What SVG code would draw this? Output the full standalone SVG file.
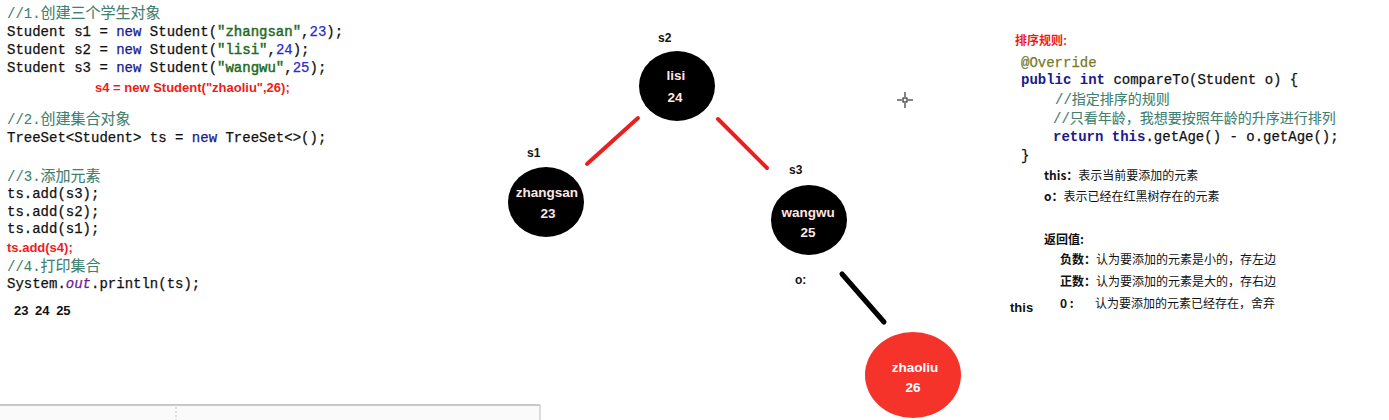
<svg xmlns="http://www.w3.org/2000/svg" width="1389" height="420" viewBox="0 0 1389 420">
<style>
.code{font-family:"Liberation Mono","Noto Sans CJK SC",monospace;font-size:14px;fill:#111;stroke:#111;stroke-width:0.25}
.cm{fill:#3f8070;stroke:#3f8070;stroke-width:0.1}
.cmz{font-size:15px}
.kw{fill:#1a1a8a;stroke:#1a1a8a;font-weight:bold;stroke-width:0}
.nw{fill:#1a1a8a;stroke:#1a1a8a}
.str{fill:#1d6b1d;stroke:#1d6b1d;stroke-width:0.45}
.num{fill:#2a2ad0;stroke:#2a2ad0}
.fld{fill:#6a1b9a;stroke:#6a1b9a;font-style:italic}
.ann{fill:#7a7a2a;stroke:#7a7a2a}
.red{font-family:"Liberation Sans","Noto Sans CJK SC",sans-serif;font-size:13px;font-weight:bold;fill:#ee1c1c}
.lbl{font-family:"Liberation Sans","Noto Sans CJK SC",sans-serif;font-size:12px;font-weight:bold;fill:#111}
.note{font-family:"Noto Sans CJK SC","Liberation Sans",sans-serif;font-size:12px;fill:#111}
.b{font-weight:bold}
.nt{font-family:"Liberation Sans",sans-serif;font-size:13.5px;font-weight:bold;fill:#ffe6e6;text-anchor:middle}
.blk{fill:#000}
.redl{stroke:#ea2020;stroke-width:4;stroke-linecap:round}
</style>

<g id="code-left">
<text class="code" x="7" y="18"><tspan class="cm">//1.</tspan><tspan class="cm cmz">创建三个学生对象</tspan></text>
<text class="code" x="7" y="36">Student s1 = <tspan class="nw">new</tspan> Student(<tspan class="str">"zhangsan"</tspan>,<tspan class="num">23</tspan>);</text>
<text class="code" x="7" y="54">Student s2 = <tspan class="nw">new</tspan> Student(<tspan class="str">"lisi"</tspan>,<tspan class="num">24</tspan>);</text>
<text class="code" x="7" y="72">Student s3 = <tspan class="nw">new</tspan> Student(<tspan class="str">"wangwu"</tspan>,<tspan class="num">25</tspan>);</text>
<text class="red" x="95" y="92">s4 = new Student("zhaoliu",26);</text>
<text class="code" x="7" y="124"><tspan class="cm">//2.</tspan><tspan class="cm cmz">创建集合对象</tspan></text>
<text class="code" x="7" y="142">TreeSet&lt;Student&gt; ts = <tspan class="nw">new</tspan> TreeSet&lt;&gt;();</text>
<text class="code" x="7" y="181"><tspan class="cm">//3.</tspan><tspan class="cm cmz">添加元素</tspan></text>
<text class="code" x="7" y="198">ts.add(s3);</text>
<text class="code" x="7" y="216">ts.add(s2);</text>
<text class="code" x="7" y="233">ts.add(s1);</text>
<text class="red" x="7" y="252">ts.add(s4);</text>
<text class="code" x="7" y="271"><tspan class="cm">//4.</tspan><tspan class="cm cmz">打印集合</tspan></text>
<text class="code" x="7" y="288">System.<tspan class="fld">out</tspan>.println(ts);</text>
<text class="lbl" x="14" y="315" style="font-size:13px;word-spacing:3px">23 24 25</text>
</g>

<g id="connectors">
<line class="redl" x1="638" y1="118" x2="587" y2="164"/>
<line class="redl" x1="718" y1="119" x2="767" y2="168"/>
<line x1="842" y1="274" x2="884" y2="322" stroke="#000" stroke-width="5" stroke-linecap="round"/>
</g>

<g id="node-s2">
<text class="lbl" x="658" y="42">s2</text>
<ellipse class="blk" cx="677" cy="86" rx="38" ry="35"/>
<text class="nt" x="676" y="80">lisi</text>
<text class="nt" x="675" y="102">24</text>
</g>

<g id="node-s1">
<text class="lbl" x="527" y="157">s1</text>
<ellipse class="blk" cx="546" cy="202" rx="38" ry="35"/>
<text class="nt" x="547" y="197">zhangsan</text>
<text class="nt" x="548" y="218">23</text>
</g>

<g id="node-s3">
<text class="lbl" x="789" y="174">s3</text>
<ellipse class="blk" cx="809" cy="220" rx="38" ry="35"/>
<text class="nt" x="808" y="217">wangwu</text>
<text class="nt" x="808" y="237">25</text>
</g>

<g id="node-s4">
<text class="lbl" x="795" y="284">o:</text>
<ellipse cx="913" cy="375" rx="48" ry="43" fill="#f5332b"/>
<text class="nt" x="915" y="372" style="fill:#fff">zhaoliu</text>
<text class="nt" x="913" y="392" style="fill:#fff">26</text>
</g>

<g id="rules">
<text class="red" x="1015" y="45" style="font-size:12px">排序规则:</text>
<text class="code ann" x="1021" y="67">@Override</text>
<text class="code" x="1021" y="84"><tspan class="kw">public int</tspan> compareTo(Student o) {</text>
<text class="code cm" x="1055" y="104">//指定排序的规则</text>
<text class="code cm" x="1053" y="123">//只看年龄，我想要按照年龄的升序进行排列</text>
<text class="code" x="1053" y="141"><tspan class="kw">return this</tspan>.getAge() - o.getAge();</text>
<text class="code" x="1021" y="160">}</text>
<text class="note" x="1044" y="180"><tspan class="b">this：</tspan>表示当前要添加的元素</text>
<text class="note" x="1044" y="201"><tspan class="b">o：</tspan>表示已经在红黑树存在的元素</text>
<text class="note b" x="1044" y="244">返回值:</text>
<text class="note" x="1060" y="264"><tspan class="b">负数：</tspan>认为要添加的元素是小的，存左边</text>
<text class="note" x="1060" y="286"><tspan class="b">正数：</tspan>认为要添加的元素是大的，存右边</text>
<text class="note" x="1060" y="308"><tspan class="b">0 :</tspan><tspan x="1095">认为要添加的元素已经存在，舍弃</tspan></text>
<text class="lbl" x="1010" y="312" style="font-size:13px">this</text>
</g>

<g id="cursor" stroke="#333" stroke-width="1.2">
<line x1="897" y1="100" x2="902" y2="100"/>
<line x1="908" y1="100" x2="913" y2="100"/>
<line x1="905" y1="92" x2="905" y2="97"/>
<line x1="905" y1="103" x2="905" y2="108"/>
<rect x="903" y="98" width="4" height="4" fill="none"/>
</g>

<g id="panel-edge">
<rect x="0" y="405" width="540" height="15" fill="#fafafa"/>
<line x1="0" y1="405" x2="540" y2="405" stroke="#c8c8c8" stroke-width="2"/>
<line x1="540" y1="405" x2="540" y2="420" stroke="#d0d0d0" stroke-width="1.5"/>
<line x1="176" y1="407" x2="176" y2="420" stroke="#c0c0c0" stroke-width="1" stroke-dasharray="2,2"/>
</g>
</svg>
